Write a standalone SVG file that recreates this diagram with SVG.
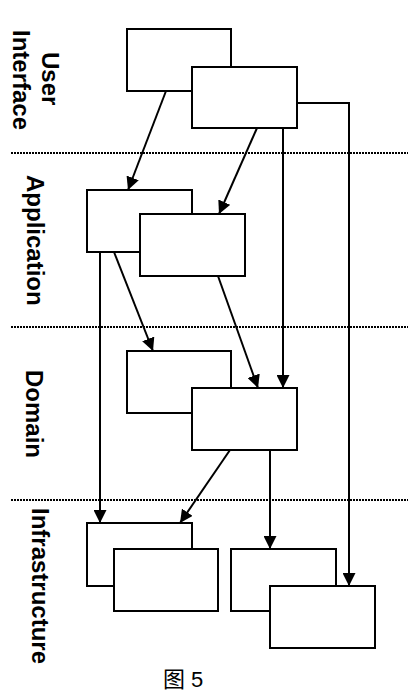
<svg xmlns="http://www.w3.org/2000/svg" width="408" height="698" viewBox="0 0 408 698">
<style>
.box{fill:#fff;stroke:#000;stroke-width:2}
.con{fill:none;stroke:#000;stroke-width:2}
.sep{stroke:#000;stroke-width:2;stroke-dasharray:2 1}
.lbl{font-family:"Liberation Sans",Arial,sans-serif;font-weight:bold;font-size:24px;fill:#000}
.cap{font-family:"Liberation Sans","Noto Sans CJK SC",sans-serif;font-size:22px;fill:#000}
</style>
<defs>
<marker id="ah" markerUnits="userSpaceOnUse" markerWidth="13" markerHeight="13" refX="13" refY="6.5" orient="auto">
<path d="M0,0 L13,6.5 L0,13 z" fill="#000"/>
</marker>
</defs>
<rect width="408" height="698" fill="#fff"/>
<g id="separators">
<line class="sep" x1="11" y1="153" x2="408" y2="153"/>
<line class="sep" x1="11" y1="327" x2="408" y2="327"/>
<line class="sep" x1="11" y1="500" x2="408" y2="500"/>
</g>
<g id="labels">
<text class="lbl" transform="translate(42,52) rotate(90)">User</text>
<text class="lbl" transform="translate(13,30) rotate(90)">Interface</text>
<text class="lbl" transform="translate(27,175) rotate(90)">Application</text>
<text class="lbl" transform="translate(26,370) rotate(90)">Domain</text>
<text class="lbl" transform="translate(32,508) rotate(90)">Infrastructure</text>
</g>
<g id="ui1"><rect class="box" x="127" y="29" width="104" height="62"/></g>
<g id="ui2"><rect class="box" x="192" y="67" width="105" height="61"/></g>
<g id="app1"><rect class="box" x="87" y="190" width="105" height="62"/></g>
<g id="app2"><rect class="box" x="140" y="214" width="105" height="62"/></g>
<g id="dom1"><rect class="box" x="127" y="351" width="104" height="62"/></g>
<g id="dom2"><rect class="box" x="192" y="388" width="105" height="62"/></g>
<g id="inf1"><rect class="box" x="87" y="523" width="105" height="63"/></g>
<g id="inf2"><rect class="box" x="114" y="549" width="104" height="62"/></g>
<g id="inf3"><rect class="box" x="231" y="549" width="105" height="62"/></g>
<g id="inf4"><rect class="box" x="270" y="586" width="105" height="62"/></g>
<g id="connectors">
<line class="con" x1="166" y1="91" x2="128" y2="190" marker-end="url(#ah)"/>
<line class="con" x1="257" y1="128" x2="219" y2="214" marker-end="url(#ah)"/>
<line class="con" x1="283" y1="128" x2="283" y2="388" marker-end="url(#ah)"/>
<polyline class="con" points="297,103 349,103 349,586" marker-end="url(#ah)"/>
<line class="con" x1="114" y1="252" x2="153" y2="351" marker-end="url(#ah)"/>
<line class="con" x1="100" y1="252" x2="100" y2="523" marker-end="url(#ah)"/>
<line class="con" x1="218" y1="276" x2="258" y2="388" marker-end="url(#ah)"/>
<line class="con" x1="230" y1="450" x2="180" y2="523" marker-end="url(#ah)"/>
<line class="con" x1="270" y1="450" x2="270" y2="549" marker-end="url(#ah)"/>
</g>
<text class="cap" x="163" y="687">图 5</text>
</svg>
